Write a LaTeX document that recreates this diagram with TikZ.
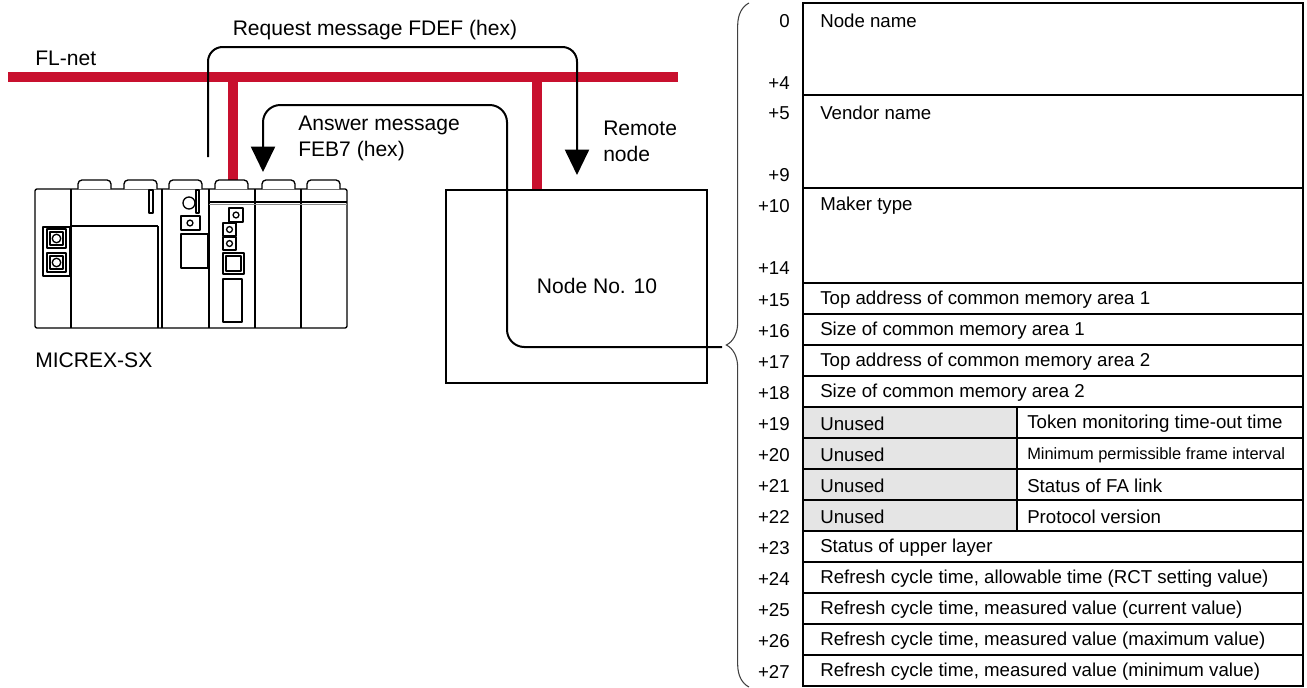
\documentclass[tikz,border=0pt]{standalone}
\usepackage{fontspec}
\setmainfont{Liberation Sans}
\usetikzlibrary{arrows.meta,decorations.pathreplacing}

\definecolor{netred}{RGB}{200,16,46}
\definecolor{unusedgray}{gray}{0.9}

\tikzset{
  bus/.style={draw=netred, line width=7.5pt},
  msg/.style={line width=1.5pt, rounded corners=11pt,
    -{Triangle[width=18pt,length=19pt]}},
  unit/.style={line width=1pt, line join=round},
  field/.style={anchor=west, inner sep=0pt},
  offs/.style={anchor=east, inner sep=0pt},
  tablegrid/.style={line width=0.9pt},
  big/.style={font=\fontsize{15.8pt}{19.5pt}\selectfont}
}

\begin{document}
\begin{tikzpicture}[x=0.75pt,y=-0.75pt,font=\fontsize{14pt}{18.75pt}\selectfont]
  \useasboundingbox (0,0) rectangle (1307,687);

  % FL-net bus with the two drops
  \coordinate (busL) at (8,77);
  \coordinate (busR) at (678,77);
  \coordinate (tapPLC) at (233,77);
  \coordinate (tapRemote) at (537,77);
  \draw[bus] (busL) -- (busR);
  \draw[bus] (tapPLC) -- (233,181);
  \draw[bus] (tapRemote) -- (537,190);
  \node[field, big] (netname) at (35,58) {FL-net};

  % MICREX-SX rack
  \draw[unit, rounded corners=1.5pt] (35,189) rectangle (347,328);
  \foreach \x in {71,162,209,255,301}
    \draw[unit] (\x,189) -- (\x,328);
  \draw[unit] (158,226) -- (158,328);
  \draw[unit] (71,226) -- (158,226);
  \foreach \a in {78,124,169,215,262,307}
    \draw[unit, fill=white, rounded corners=3pt] (\a,189) -- (\a,180) -- (\a+33,180) -- (\a+33,189);
  \draw[unit] (209,202) -- (347,202);
  \draw[line width=1.2pt, black!45] (209,204.5) -- (347,204.5);
  % power supply connector
  \draw[unit] (43,227) rectangle (70,276);
  \foreach \y in {229,253} {
    \draw[unit] (47,\y) rectangle (66,\y+19);
    \draw[unit] (50,\y+3) rectangle (63,\y+16);
    \draw[unit] (56.5,\y+9.5) circle (3.2pt);
  }
  % LED strips
  \draw[unit] (149,190) rectangle (153,213);
  \draw[unit] (196,190) rectangle (199,213);
  % CPU front
  \draw[unit] (189,203) circle (4.5pt);
  \draw[unit] (181,216) rectangle (200,230);
  \draw[unit] (190,223) circle (2.2pt);
  \draw[unit] (181,234) rectangle (208,268);
  % FL-net module front
  \draw[unit] (229,208) rectangle (243,222);
  \draw[unit] (236,215) circle (2.2pt);
  \foreach \y in {223,237} {
    \draw[unit] (223,\y) rectangle (236,\y+13);
    \draw[unit] (229.5,\y+6.5) circle (2.2pt);
  }
  \draw[unit] (223,253) rectangle (244,274);
  \draw[unit] (226,256) rectangle (241,271);
  \draw[unit] (223,279) rectangle (242,322);
  \node[field, big] (plcname) at (35,360) {MICREX-SX};

  % remote node
  \draw[line width=1.5pt] (446,190) rectangle (707,383);
  \node[big] (remote) at (597,286) {Node No. 10};
  \node[field, big, align=left] (remotename) at (603,141) {Remote\\node};

  % message flows
  \coordinate (reqstart) at (208,157);
  \coordinate (reqend) at (577,175);
  \draw[msg] (reqstart) -- ++(0,-110) -| (reqend);
  \node[big] (reqtext) at (375,30) {Request message FDEF (hex)};

  \coordinate (bracetip) at (722,347);
  \coordinate (anscorner) at (507,105);
  \coordinate (ansend) at (263,172);
  \draw[msg, rounded corners=13pt] (bracetip) -| (anscorner) -| (ansend);
  \node[field, big, align=left] (anstext) at (298,138) {Answer message\\FEB7 (hex)};

  % parameter block
  \draw[decorate, decoration={brace, amplitude=17pt}, line width=0.8pt, black!75]
    (749,687) -- (749,3);

  \fill[unusedgray] (803,407) rectangle (1017,531);
  \draw[tablegrid] (803,3) rectangle (1303,686);
  \foreach \y in {95,188,283}
    \draw[tablegrid] (803,\y) -- (1303,\y);
  \foreach \k in {1,...,12}
    \draw[tablegrid] (803,283+31*\k) -- (1303,283+31*\k);
  \draw[tablegrid] (1017,407) -- (1017,531);

  \foreach \t/\a/\b/\txt in {3/0/+4/Node name, 95/+5/+9/Vendor name, 188/+10/+14/Maker type} {
    \node[offs] (off\a) at (790,\t+18) {\a};
    \node[offs] (off\b) at (790,\t+80) {\b};
    \node[field] (fld\a) at (820,\t+18) {\txt};
  }
  \foreach \k/\txt in {15/Top address of common memory area 1,
                       16/Size of common memory area 1,
                       17/Top address of common memory area 2,
                       18/Size of common memory area 2,
                       23/Status of upper layer,
                       24/{Refresh cycle time, allowable time (RCT setting value)},
                       25/{Refresh cycle time, measured value (current value)},
                       26/{Refresh cycle time, measured value (maximum value)},
                       27/{Refresh cycle time, measured value (minimum value)}} {
    \node[offs] (off\k) at (790,300+31*\k-465) {+\k};
    \node[field] (fld\k) at (820,300+31*\k-465) {\txt};
  }
  \foreach \k/\txt in {19/Token monitoring time-out time,
                       20/{\fontsize{12.3pt}{14pt}\selectfont Minimum permissible frame interval},
                       21/Status of FA link,
                       22/Protocol version} {
    \node[offs] (off\k) at (790,300+31*\k-465) {+\k};
    \node[field] (pad\k) at (820,300+31*\k-465) {Unused};
    \node[field] (fld\k) at (1027,300+31*\k-465) {\txt};
  }
\end{tikzpicture}
\end{document}
